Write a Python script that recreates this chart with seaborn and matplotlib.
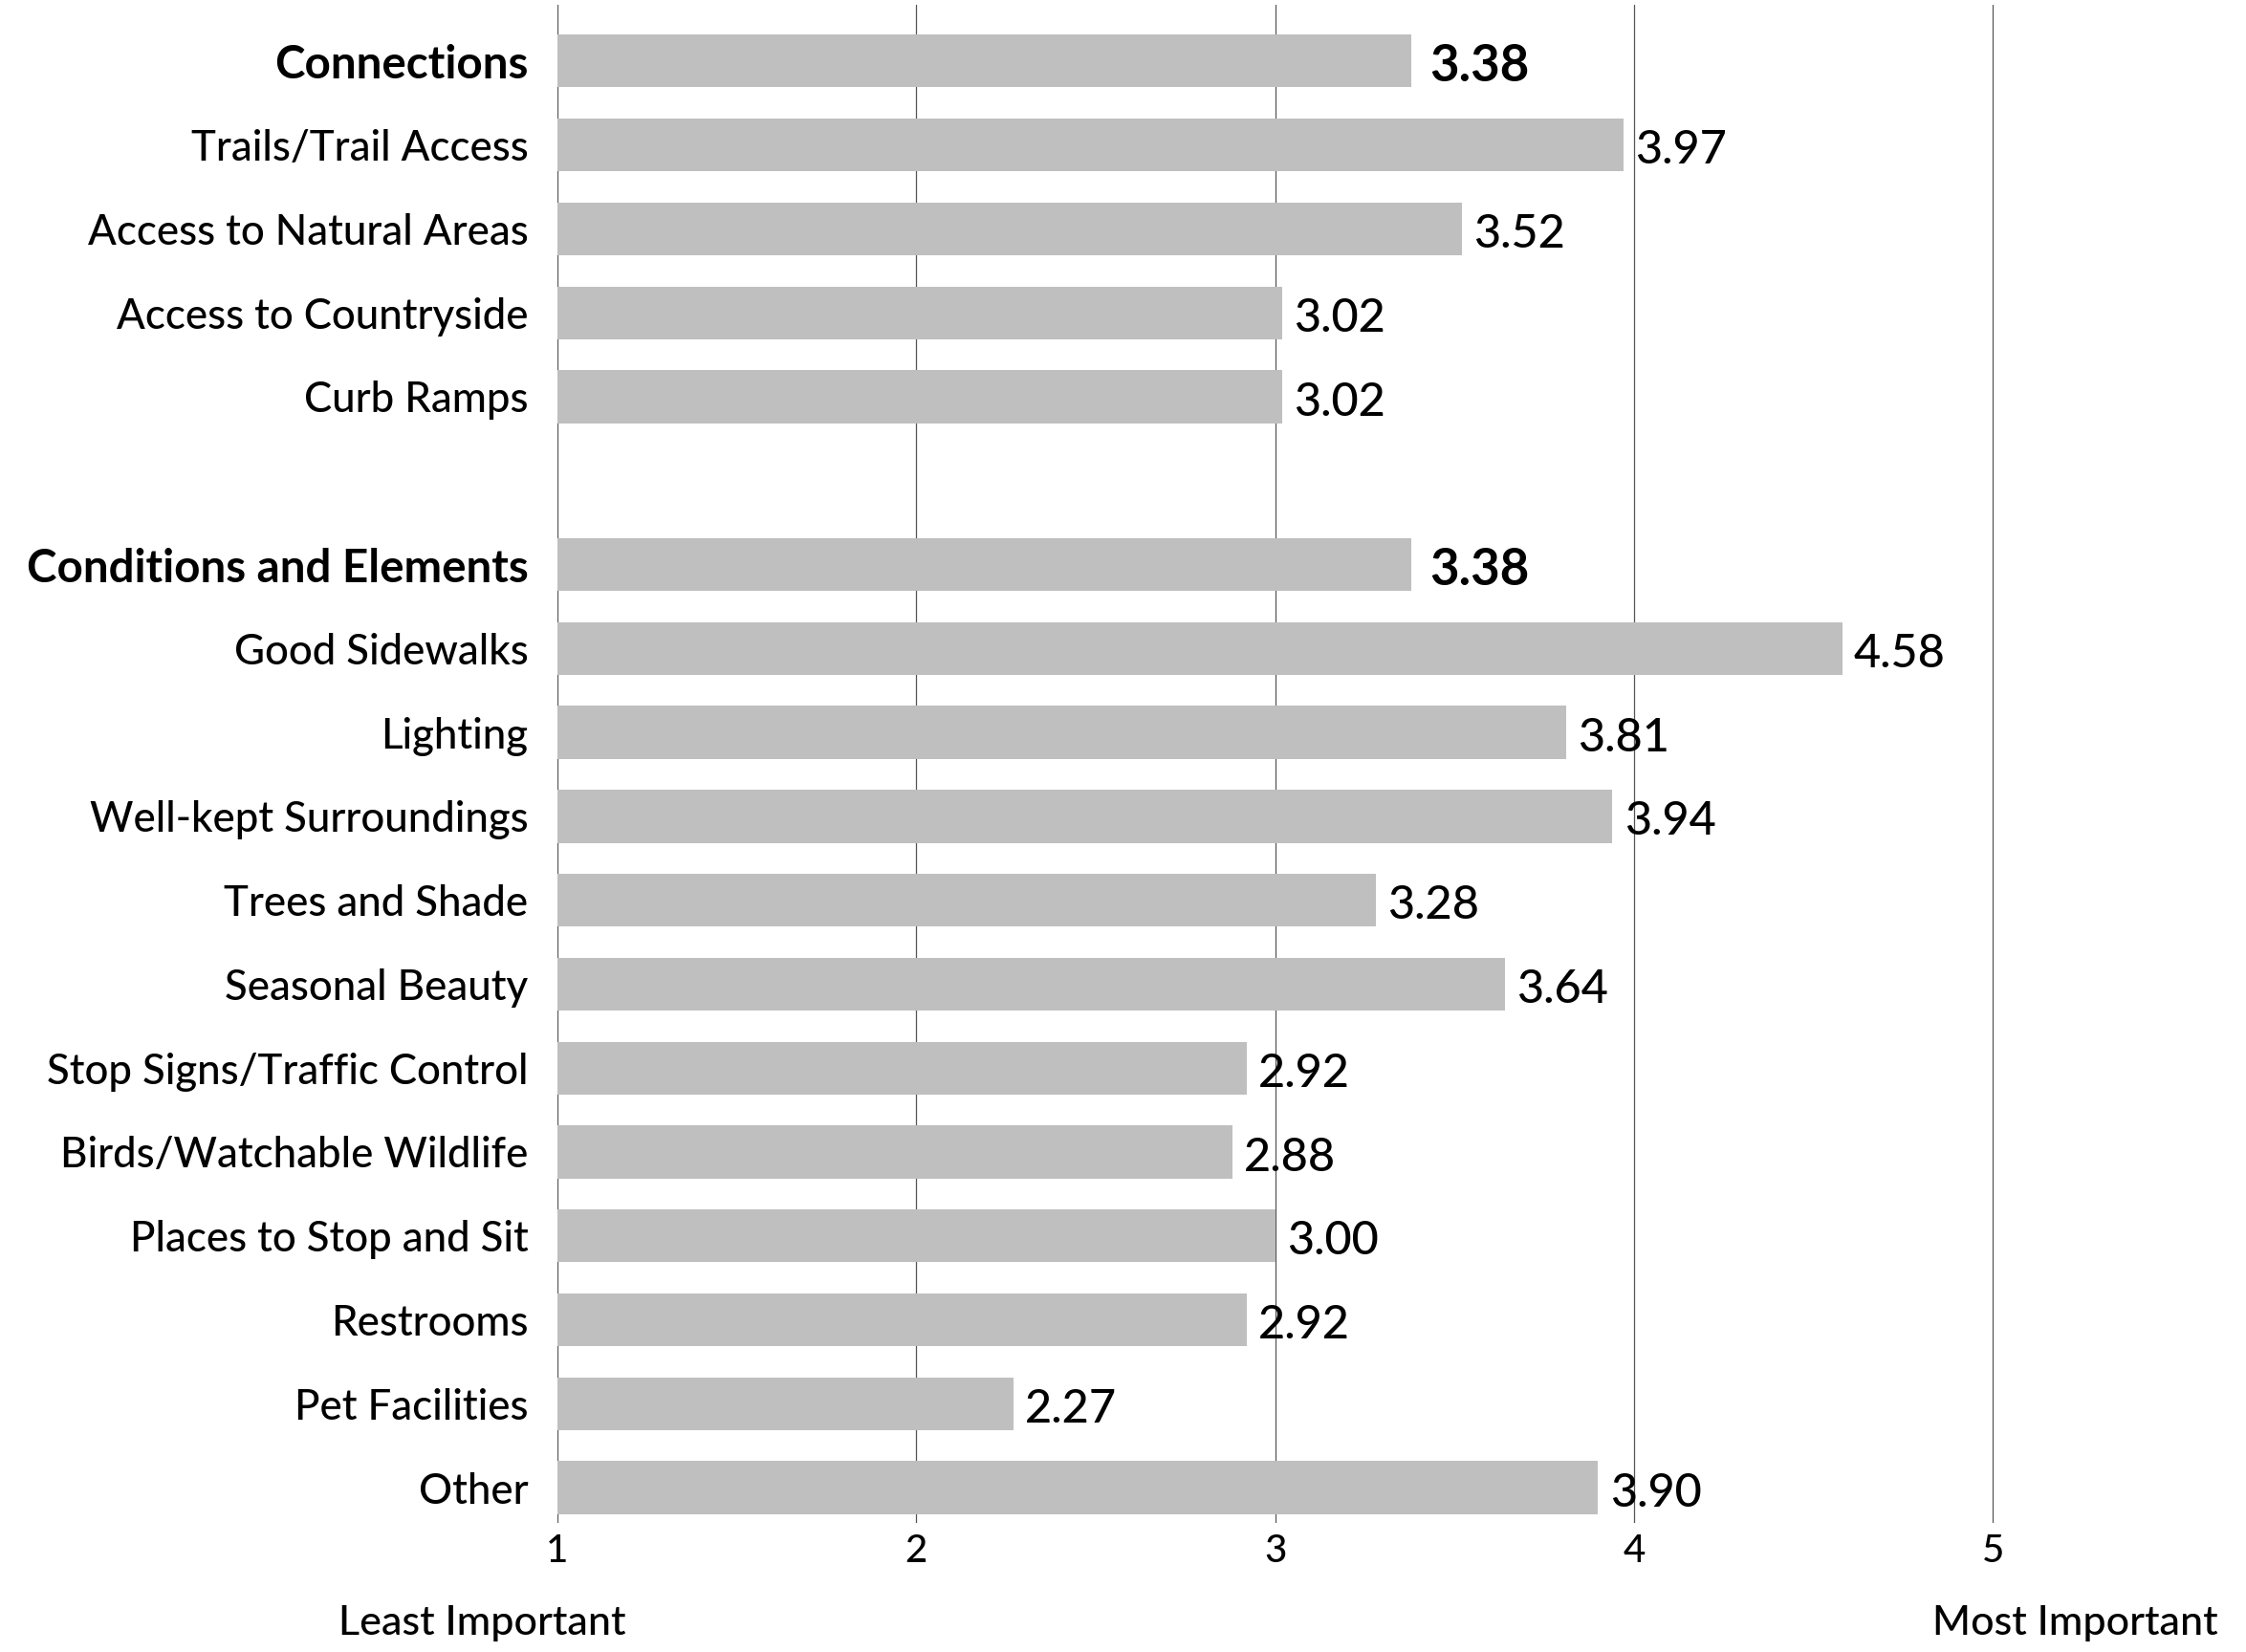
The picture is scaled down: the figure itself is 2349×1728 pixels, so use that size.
import matplotlib
matplotlib.use("Agg")
import matplotlib.pyplot as plt
import seaborn as sns
import pandas as pd

# ---- data ----
categories = ["Connections", "Trails/Trail Access", "Access to Natural Areas",
              "Access to Countryside", "Curb Ramps", "Conditions and Elements",
              "Good Sidewalks", "Lighting", "Well-kept Surroundings", "Trees and Shade",
              "Seasonal Beauty", "Stop Signs/Traffic Control", "Birds/Watchable Wildlife",
              "Places to Stop and Sit", "Restrooms", "Pet Facilities", "Other"]
values = [3.38, 3.97, 3.52, 3.02, 3.02, 3.38, 4.58, 3.81, 3.94, 3.28,
          3.64, 2.92, 2.88, 3.00, 2.92, 2.27, 3.90]
group_headers = ["Connections", "Conditions and Elements"]
spacer = " "
order = categories[:5] + [spacer] + categories[5:]
x_ticks = [1, 2, 3, 4, 5]
end_labels = ["Least Important", "Most Important"]

df = pd.DataFrame({"category": categories, "value": values})

sns.set_theme(style="white")
plt.rcParams["font.family"] = ["Lato", "DejaVu Sans"]

W, H = 2349, 1728
fig = plt.figure(figsize=(W / 100, H / 100), dpi=100)
left, right, top, bottom = 583 / W, 2086 / W, 1 - 5 / H, 1 - 1593 / H
ax = fig.add_axes([left, bottom, right - left, top - bottom])

sns.barplot(data=df, y="category", x="value", order=order, orient="h",
            color="#c0bfc0", saturation=1, width=0.63, linewidth=0,
            errorbar=None, ax=ax, zorder=2)

ax.set_xlim(1, 5.005)
ax.set_ylim(len(order) - 1 + 0.42, -0.67)
ax.set_xticks(x_ticks)
ax.set_xticklabels([str(t) for t in x_ticks], fontsize=29, fontweight="medium")
ax.grid(axis="x", color="#555555", linewidth=0.9, zorder=0)
ax.grid(axis="y", visible=False)
ax.set_axisbelow(True)
sns.despine(ax=ax, left=True, bottom=True, top=True, right=True)
ax.tick_params(axis="both", length=0)
ax.tick_params(axis="y", pad=22, labelsize=31.5)
ax.tick_params(axis="x", pad=8)
ax.set_xlabel("")
ax.set_ylabel("")

for lbl in ax.get_yticklabels():
    lbl.set_color("black")
    if lbl.get_text() in group_headers:
        lbl.set_fontweight("bold")
        lbl.set_fontsize(34.2)
    else:
        lbl.set_fontweight("medium")
for lbl in ax.get_xticklabels():
    lbl.set_color("black")

for cat, v in zip(categories, values):
    y = order.index(cat)
    bold = cat in group_headers
    ax.annotate(f"{v:.2f}", xy=(v, y), xytext=(14 if bold else 9, -4),
                textcoords="offset points", va="center", ha="left",
                fontsize=38 if bold else 35,
                fontweight="bold" if bold else "medium", color="black")

fig.text(504 / W, 1 - 1710 / H, end_labels[0], ha="center", va="baseline",
         fontsize=31, fontweight="medium", color="black")
fig.text(2170 / W, 1 - 1710 / H, end_labels[1], ha="center", va="baseline",
         fontsize=31, fontweight="medium", color="black")

fig.savefig("out.png", dpi=100, facecolor="white")
